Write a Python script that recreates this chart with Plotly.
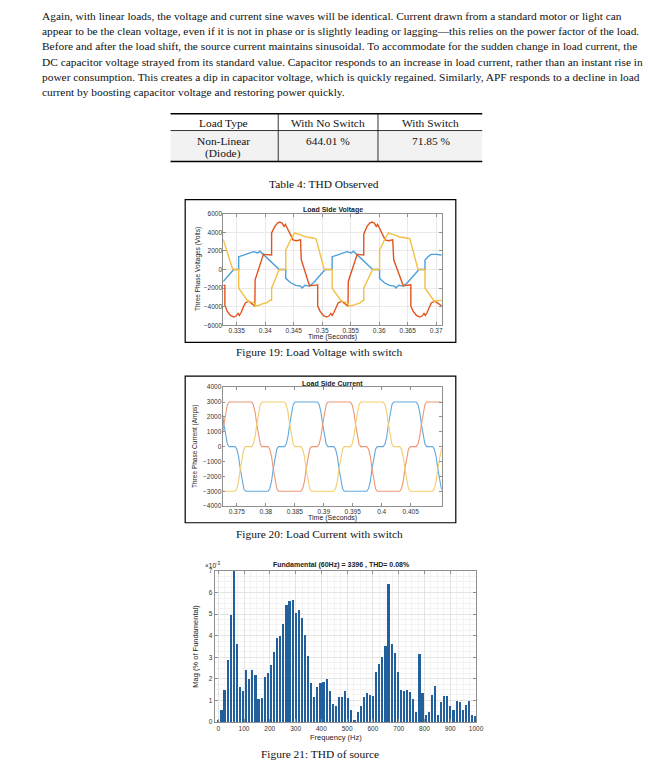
import plotly.graph_objects as go

W, H = 648, 770


def fx(x):
    return x / W


def fy(y):
    return 1 - y / H


# ---------------- text content ----------------
para_lines = [
    "Again, with linear loads, the voltage and current sine waves will be identical. Current drawn from a standard motor or light can",
    "appear to be the clean voltage, even if it is not in phase or is slightly leading or lagging\u2014this relies on the power factor of the load.",
    "Before and after the load shift, the source current maintains sinusoidal. To accommodate for the sudden change in load current, the",
    "DC capacitor voltage strayed from its standard value. Capacitor responds to an increase in load current, rather than an instant rise in",
    "power consumption. This creates a dip in capacitor voltage, which is quickly regained. Similarly, APF responds to a decline in load",
    "current by boosting capacitor voltage and restoring power quickly.",
]
table_header = ["Load Type", "With No Switch", "With Switch"]
table_row_line1 = ["Non-Linear", "644.01 %", "71.85 %"]
table_row_line2 = ["(Diode)", "", ""]

# ---------------- Figure 19: load side voltage (time in ms, volts) ----------------
va_t_ms = [332.632, 333.672, 334.480, 335.347, 335.347, 336.213, 337.079, 337.946, 338.697, 339.043,
           339.679, 340.545, 341.527, 342.451, 343.606, 343.606, 344.473, 345.339, 346.205, 346.494,
           346.956, 347.765, 348.516, 349.671, 350.537, 351.750, 351.750, 352.617, 353.483, 354.350,
           355.100, 355.447, 356.082, 356.949, 357.931, 358.855, 360.068, 360.068, 360.934, 361.801,
           362.667, 362.956, 363.418, 364.227, 364.977, 366.133, 366.999, 368.039, 368.039, 368.559,
           369.136, 370.003, 370.753, 370.984]
va_v = [-1300, -620, 0, 0, 1385, 1550, 1700, 1930, 1780, 1980,
        1633, 1150, 560, 0, 0, -950, -1420, -1700, -1780, -1990,
        -1700, -1780, -1400, -620, 0, 0, 1385, 1550, 1700, 1930,
        1780, 1980, 1633, 1150, 560, 0, 0, -950, -1420, -1700,
        -1780, -1990, -1700, -1780, -1400, -620, 0, 0, 1030, 1385,
        1633, 1633, 1560, 1560]

vb_t_ms = [332.632, 332.921, 332.921, 333.325, 333.903, 334.480, 334.884, 335.231, 335.462, 335.751,
           336.097, 336.502, 337.137, 338.177, 338.235, 339.679, 341.123, 341.123, 341.700, 342.162,
           342.567, 342.971, 343.317, 343.548, 343.837, 344.299, 344.877, 345.455, 346.205, 346.321,
           347.765, 349.209, 349.209, 349.613, 350.191, 350.768, 351.173, 351.519, 351.750, 352.039,
           352.386, 352.790, 353.425, 354.523, 354.581, 356.140, 357.295, 357.295, 357.873, 358.335,
           358.739, 359.144, 359.490, 359.721, 360.010, 360.472, 361.050, 361.627, 362.378, 362.552,
           364.227, 365.555, 365.555, 365.959, 366.537, 367.115, 367.519, 367.865, 368.096, 368.385,
           368.732, 369.136, 369.772, 370.869, 370.984]
vb_v = [-1700, -1700, -3800, -4470, -4935, -5110, -5000, -4720, -4935, -4650,
        -4120, -3590, -3400, -3940, -1100, 1630, 1560, 3940, 4650, 5005,
        5110, 5005, 4650, 4860, 4500, 3870, 3200, 3100, 3200, 1100,
        -1740, -1650, -3900, -4470, -4935, -5110, -5000, -4720, -4935, -4650,
        -4120, -3590, -3400, -3940, -1280, 1630, 1560, 3800, 4650, 5005,
        5110, 5005, 4650, 4860, 4500, 3870, 3200, 3100, 3200, 1050,
        -1740, -1630, -3940, -4470, -4935, -5110, -5000, -4720, -4935, -4650,
        -4120, -3590, -3400, -3940, -3900]

vc_t_ms = [332.632, 334.307, 335.347, 335.347, 336.964, 338.119, 338.235, 338.812, 339.679, 340.256,
           340.834, 341.123, 341.123, 342.451, 343.606, 343.606, 344.588, 345.166, 346.321, 347.187,
           348.343, 348.920, 350.364, 351.750, 351.750, 353.368, 354.523, 354.638, 355.216, 356.082,
           356.660, 357.180, 357.295, 357.295, 358.855, 360.068, 360.068, 361.050, 361.627, 362.783,
           363.649, 364.804, 365.382, 366.826, 368.039, 368.039, 369.656, 370.984]
vc_v = [3250, 0, 0, -2000, -3400, -3600, -3940, -3870, -3650, -3580,
        -3300, -3300, -2000, 0, 0, 2100, 3340, 3940, 3700, 3500,
        3400, 3300, 0, 0, -2000, -3400, -3600, -3940, -3870, -3650,
        -3580, -3300, -3300, -2000, 0, 0, 2100, 3340, 3940, 3700,
        3500, 3400, 3300, 0, 0, -2000, -3400, -3300]

volt_ticks = [0.335, 0.34, 0.345, 0.35, 0.355, 0.36, 0.365, 0.37]
volt_tick_text = ["0.335", "0.34", "0.345", "0.35", "0.355", "0.36", "0.365", "0.37"]

# ---------------- Figure 20: load side current (commutation instants, ms) ----------------
ia_edges_ms = [372.767, 375.597, 381.289, 384.119, 389.812, 392.641, 398.334, 401.163, 406.856, 409.686]
ia_levels = [3000, 0, -3000, 0, 3000, 0, -3000, 0, 3000, 0, -3000]
ib_edges_ms = [372.767, 378.443, 381.289, 386.965, 389.812, 395.488, 398.334, 404.010, 406.856]
ib_levels = [0, 3000, 0, -3000, 0, 3000, 0, -3000, 0, 3000]
ic_edges_ms = [375.597, 378.443, 384.119, 386.965, 392.641, 395.488, 401.163, 404.010, 409.686]
ic_levels = [-3000, 0, 3000, 0, -3000, 0, 3000, 0, -3000, 0]
edge_dt_ms = [-0.9, -0.6, -0.3, 0.0, 0.3, 0.6, 0.9]
edge_frac = [0.0, 0.06, 0.22, 0.5, 0.78, 0.94, 1.0]

cur_ticks = [0.375, 0.38, 0.385, 0.39, 0.395, 0.4, 0.405]
cur_tick_text = ["0.375", "0.38", "0.385", "0.39", "0.395", "0.4", "0.405"]

# ---------------- Figure 21: harmonic spectrum (x1e-3 % of fundamental) ----------------
freq_hz = [0, 12, 24, 36, 48, 60, 72, 84, 96, 108, 120, 132, 144, 156, 168, 180, 192, 204, 216, 228,
           240, 252, 264, 276, 288, 300, 312, 324, 336, 348, 360, 372, 384, 396, 408, 420, 432, 444, 456, 468,
           480, 492, 504, 516, 528, 540, 552, 564, 576, 588, 600, 612, 624, 636, 648, 660, 672, 684, 696, 708,
           720, 732, 744, 756, 768, 780, 792, 804, 816, 828, 840, 852, 864, 876, 888, 900, 912, 924, 936, 948,
           960, 972, 984, 996]
mag_e3 = [0.1, 0.55, 1.5, 2.85, 4.95, 7.0, 3.6, 1.6, 1.45, 2.4,
          2.0, 2.4, 2.15, 1.05, 1.1, 2.1, 2.25, 2.65, 3.25, 3.9,
          4.0, 4.55, 5.4, 5.6, 5.65, 5.05, 5.2, 4.8, 4.05, 3.05,
          1.8, 1.15, 1.6, 1.8, 1.85, 2.0, 1.45, 0.85, 0.75, 1.15,
          1.15, 1.45, 1.1, 0.55, 0.1, 0.45, 0.75, 1.15, 1.35, 1.25,
          1.2, 2.3, 2.7, 3.0, 3.5, 6.4, 3.6, 3.2, 2.3, 1.5,
          1.45, 1.5, 1.4, 1.05, 0.45, 3.15, 1.35, 0.3, 0.45, 1.25,
          1.65, 0.3, 0.9, 1.2, 1.2, 0.75, 0.55, 0.95, 0.9, 0.55,
          0.8, 0.95, 0.3, 0.25]


def build_current(edges, levels, t0, t1):
    ts, ys = [t0], [levels[0]]
    for i, c in enumerate(edges):
        a, b = levels[i], levels[i + 1]
        for dt, f in zip(edge_dt_ms, edge_frac):
            ts.append(c + dt)
            ys.append(a + f * (b - a))
    ts.append(t1)
    ys.append(levels[-1])
    return [t / 1000 for t in ts], ys


# colours
C_BLUE_V, C_ORANGE_V, C_YELLOW_V = "#4a9fdc", "#e2531e", "#f3bf45"
C_BLUE_I, C_ORANGE_I, C_YELLOW_I = "#63a9dd", "#ee9773", "#f6cd6c"
BAR = "#22609d"
SANS = "Liberation Sans, Arial, sans-serif"
SERIF = "Liberation Serif, Times New Roman, serif"
PARA_SIZE = 11.4

fig = go.Figure()

for t_ms, v, c in [(va_t_ms, va_v, C_BLUE_V), (vb_t_ms, vb_v, C_ORANGE_V), (vc_t_ms, vc_v, C_YELLOW_V)]:
    fig.add_trace(go.Scatter(x=[t / 1000 for t in t_ms], y=v, mode="lines",
                             line=dict(color=c, width=1.4), xaxis="x", yaxis="y", showlegend=False,
                             hoverinfo="skip"))

I_T0, I_T1 = 372.529, 410.367
for e, l, c in [(ia_edges_ms, ia_levels, C_BLUE_I), (ib_edges_ms, ib_levels, C_ORANGE_I),
                (ic_edges_ms, ic_levels, C_YELLOW_I)]:
    tx, iy = build_current(e, l, I_T0, I_T1)
    fig.add_trace(go.Scatter(x=tx, y=iy, mode="lines", line=dict(color=c, width=1.1),
                             xaxis="x2", yaxis="y2", showlegend=False, hoverinfo="skip"))

fig.add_trace(go.Bar(x=freq_hz, y=mag_e3, width=6.5, marker=dict(color=BAR, line=dict(width=0)),
                     xaxis="x3", yaxis="y3", showlegend=False))

axcommon = dict(showline=True, mirror="ticks", linecolor="#8f8f8f", linewidth=0.8, ticks="inside",
                ticklen=3, tickcolor="#8f8f8f", tickwidth=0.7, zeroline=False,
                tickfont=dict(family=SANS, size=6.5, color="#333333"))

fig.update_layout(
    width=W, height=H, margin=dict(l=0, r=0, t=0, b=0),
    paper_bgcolor="white", plot_bgcolor="white",
    bargap=0,
    xaxis=dict(domain=[fx(226), fx(447.3)], range=[0.332632, 0.370984], tickvals=volt_ticks,
               ticktext=volt_tick_text, showgrid=True, gridcolor="#e9e9e9", gridwidth=0.7,
               anchor="y", ticklabelstandoff=-1, **axcommon),
    yaxis=dict(domain=[fy(324.3), fy(211.7)], range=[-6000, 6000], tickvals=list(range(-6000, 6001, 2000)),
               showgrid=True, gridcolor="#e9e9e9", gridwidth=0.7, anchor="x", ticklabelstandoff=-1,
               **axcommon),
    xaxis2=dict(domain=[fx(225.3), fx(447.3)], range=[I_T0 / 1000, I_T1 / 1000], tickvals=cur_ticks,
                ticktext=cur_tick_text, showgrid=False, anchor="y2", ticklabelstandoff=-1, **axcommon),
    yaxis2=dict(domain=[fy(506.7), fy(386.7)], range=[-4000, 4000], tickvals=list(range(-4000, 4001, 1000)),
                showgrid=False, anchor="x2", ticklabelstandoff=-1, **axcommon),
    xaxis3=dict(domain=[fx(217.3), fx(482)], range=[-14, 1000], tickvals=list(range(0, 1001, 100)),
                showgrid=True, gridcolor="#e3e3e3", gridwidth=0.7, anchor="y3", ticklabelstandoff=0,
                minor=dict(dtick=25, showgrid=True, gridcolor="#f3f3f3", gridwidth=0.6, ticks=""),
                **axcommon),
    yaxis3=dict(domain=[fy(724.5), fy(572.3)], range=[0, 7], tickvals=list(range(0, 8)),
                showgrid=True, gridcolor="#e3e3e3", gridwidth=0.7, anchor="x3",
                minor=dict(dtick=0.25, showgrid=True, gridcolor="#f3f3f3", gridwidth=0.6, ticks=""),
                **axcommon),
)

shapes = []
ann = []

para_y = [12, 27.4, 42.8, 58.2, 73.6, 89]
for s, y in zip(para_lines, para_y):
    ann.append(dict(x=fx(40), y=fy(y), xref="paper", yref="paper", text=s, showarrow=False,
                    xanchor="left", yanchor="middle", font=dict(family=SERIF, size=PARA_SIZE, color="#111111")))

# table
TX0, TX1 = 172.7, 488.3
shapes.append(dict(type="rect", xref="paper", yref="paper", x0=fx(TX0), x1=fx(TX1), y0=fy(159), y1=fy(127.7),
                   fillcolor="#f2f2f2", line=dict(width=0), layer="below"))
for y, w in [(110.7, 1.5), (127.7, 0.8), (159, 1.5)]:
    shapes.append(dict(type="line", xref="paper", yref="paper", x0=fx(TX0), x1=fx(TX1), y0=fy(y), y1=fy(y),
                       line=dict(color="black", width=w)))
for x in [281.7, 382.7]:
    shapes.append(dict(type="line", xref="paper", yref="paper", x0=fx(x), x1=fx(x), y0=fy(110.7), y1=fy(159),
                       line=dict(color="black", width=0.8)))
col_cx = [226, 331.7, 436]
for row, ry in [(table_header, 120.5), (table_row_line1, 138.3), (table_row_line2, 151)]:
    for txt, cx in zip(row, col_cx):
        if txt:
            ann.append(dict(x=fx(cx), y=fy(ry), xref="paper", yref="paper", text=txt, showarrow=False,
                            xanchor="center", yanchor="middle",
                            font=dict(family=SERIF, size=PARA_SIZE, color="#111111")))

for txt, cx, cy in [("Table 4: THD Observed", 328, 181.5),
                    ("Figure 19: Load Voltage with switch", 323, 351),
                    ("Figure 20: Load Current with switch", 323, 535),
                    ("Figure 21: THD of source", 324, 757)]:
    ann.append(dict(x=fx(cx), y=fy(cy), xref="paper", yref="paper", text=txt, showarrow=False,
                    xanchor="center", yanchor="middle", font=dict(family=SERIF, size=PARA_SIZE, color="#111111")))

for x0, y0, x1, y1 in [(187.5, 197.5, 461.5, 341.5), (187.5, 375.5, 461.5, 523.5)]:
    shapes.append(dict(type="rect", xref="paper", yref="paper", x0=fx(x0), x1=fx(x1), y0=fy(y1), y1=fy(y0),
                       line=dict(color="black", width=1.2), fillcolor="rgba(0,0,0,0)"))


def lab(txt, x, y, size=7, bold=False, angle=0):
    return dict(x=fx(x), y=fy(y), xref="paper", yref="paper", text=("<b>%s</b>" % txt) if bold else txt,
                showarrow=False, xanchor="center", yanchor="middle", textangle=angle,
                font=dict(family=SANS, size=size, color="#222222"))


ann += [
    lab("Load Side Voltage", 336.7, 207.5, 7, True),
    lab("Time (Seconds)", 336.7, 336.5, 7),
    lab("Three Phase Voltages (Volts)", 200, 268, 6.5, angle=-90),
    lab("Load Side Current", 336.7, 382.5, 7, True),
    lab("Time (Seconds)", 336.7, 518.5, 7),
    lab("Three Phase Current (Amps)", 196.7, 446.7, 6.5, angle=-90),
    lab("Fundamental (60Hz) = 3396 , THD= 0.08%", 345.5, 566, 7, True),
    lab("Frequency (Hz)", 340, 740, 7.5),
    lab("Mag (% of Fundamental)", 198, 648, 7.5, angle=-90),
    lab("\u00d710<sup>-3</sup>", 216, 566, 6.5),
]

fig.update_layout(shapes=shapes, annotations=ann)
fig.write_html("out.html", config={"displayModeBar": False},
               post_script="document.body.style.margin='0';document.body.style.padding='0';")
